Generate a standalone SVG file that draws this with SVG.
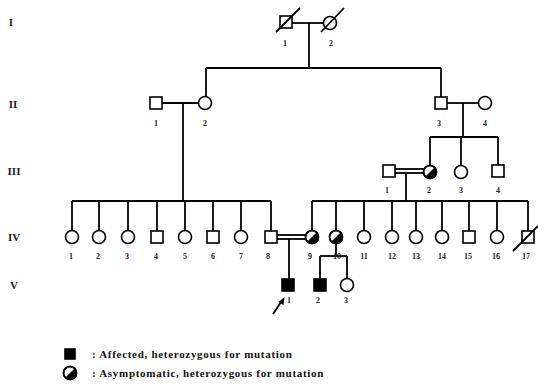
<svg xmlns="http://www.w3.org/2000/svg" width="538" height="392" viewBox="0 0 538 392">
<defs>
<style>
.ln{stroke:#000;stroke-width:1.8;fill:none}
.sq{stroke:#000;stroke-width:1.6;fill:#fff}
.ci{stroke:#000;stroke-width:1.6;fill:#fff}
.af{fill:#000;stroke:#000;stroke-width:1.6}
.hf{fill:#000;stroke:none}
.lb{font-family:"Liberation Serif",serif;font-size:8px;font-weight:bold;text-anchor:middle;fill:#222}
.gn{font-family:"Liberation Serif",serif;font-size:11px;font-weight:bold;text-anchor:middle;fill:#222}
.lg{font-family:"Liberation Serif",serif;font-size:11px;font-weight:bold;letter-spacing:0.7px;fill:#111}
</style>
<symbol id="half" viewBox="-7 -7 14 14" overflow="visible">
<circle r="6.5" class="ci"/>
<path d="M-4.6,4.6 A6.5,6.5 0 0 0 4.6,-4.6 Z" class="hf"/>
<circle r="6.5" fill="none" stroke="#000" stroke-width="1.6"/>
</symbol>
</defs>
<rect width="538" height="392" fill="#fff"/>

<g id="gen-labels">
<text class="gn" x="11" y="26">I</text>
<text class="gn" x="13" y="108">II</text>
<text class="gn" x="14" y="175">III</text>
<text class="gn" x="14" y="241">IV</text>
<text class="gn" x="14" y="289">V</text>
</g>

<g id="connectors">
<line class="ln" x1="292" y1="23" x2="324" y2="23"/>
<line class="ln" x1="309" y1="23" x2="309" y2="68"/>
<line class="ln" x1="206" y1="68" x2="441" y2="68"/>
<line class="ln" x1="206" y1="68" x2="206" y2="97"/>
<line class="ln" x1="441" y1="68" x2="441" y2="97"/>
<line class="ln" x1="162" y1="103" x2="199" y2="103"/>
<line class="ln" x1="183" y1="103" x2="183" y2="201"/>
<line class="ln" x1="447" y1="103" x2="479" y2="103"/>
<line class="ln" x1="463" y1="103" x2="463" y2="137"/>
<line class="ln" x1="430" y1="137" x2="498" y2="137"/>
<line class="ln" x1="430" y1="137" x2="430" y2="166"/>
<line class="ln" x1="461" y1="137" x2="461" y2="166"/>
<line class="ln" x1="498" y1="137" x2="498" y2="165"/>
<line class="ln" x1="395" y1="169" x2="424" y2="169" stroke-width="1.4"/>
<line class="ln" x1="395" y1="173" x2="424" y2="173" stroke-width="1.4"/>
<line class="ln" x1="406" y1="173" x2="406" y2="201"/>
<line class="ln" x1="72" y1="201" x2="271" y2="201"/>
<line class="ln" x1="72" y1="201" x2="72" y2="231"/>
<line class="ln" x1="99" y1="201" x2="99" y2="231"/>
<line class="ln" x1="128" y1="201" x2="128" y2="231"/>
<line class="ln" x1="157" y1="201" x2="157" y2="231"/>
<line class="ln" x1="185" y1="201" x2="185" y2="231"/>
<line class="ln" x1="213" y1="201" x2="213" y2="231"/>
<line class="ln" x1="241" y1="201" x2="241" y2="231"/>
<line class="ln" x1="271" y1="201" x2="271" y2="231"/>
<line class="ln" x1="312" y1="201" x2="528" y2="201"/>
<line class="ln" x1="312" y1="201" x2="312" y2="231"/>
<line class="ln" x1="336" y1="201" x2="336" y2="231"/>
<line class="ln" x1="364" y1="201" x2="364" y2="231"/>
<line class="ln" x1="392" y1="201" x2="392" y2="231"/>
<line class="ln" x1="416" y1="201" x2="416" y2="231"/>
<line class="ln" x1="442" y1="201" x2="442" y2="231"/>
<line class="ln" x1="469" y1="201" x2="469" y2="231"/>
<line class="ln" x1="497" y1="201" x2="497" y2="231"/>
<line class="ln" x1="528" y1="201" x2="528" y2="231"/>
<line class="ln" x1="277" y1="235" x2="306" y2="235" stroke-width="1.4"/>
<line class="ln" x1="277" y1="239" x2="306" y2="239" stroke-width="1.4"/>
<line class="ln" x1="289" y1="239" x2="289" y2="279"/>
<line class="ln" x1="336" y1="243" x2="336" y2="256"/>
<line class="ln" x1="320" y1="256" x2="347" y2="256"/>
<line class="ln" x1="320" y1="256" x2="320" y2="279"/>
<line class="ln" x1="347" y1="256" x2="347" y2="279"/>
<line class="ln" x1="273" y1="314" x2="281" y2="302"/>
<path d="M284.5,297 L278.5,302 L283.5,305 Z" fill="#000"/>
</g>

<g id="I-1"><rect class="sq" x="280" y="16" width="12" height="12"/><line class="ln" x1="276" y1="32" x2="300" y2="8" stroke-width="1.3"/><text class="lb" x="285" y="46">1</text></g>
<g id="I-2"><circle class="ci" cx="330" cy="23" r="6.5"/><line class="ln" x1="321" y1="32" x2="344" y2="8" stroke-width="1.3"/><text class="lb" x="331" y="46">2</text></g>

<g id="II-1"><rect class="sq" x="150" y="97" width="12" height="12"/><text class="lb" x="156" y="126">1</text></g>
<g id="II-2"><circle class="ci" cx="205" cy="103" r="6.5"/><text class="lb" x="205" y="126">2</text></g>
<g id="II-3"><rect class="sq" x="435" y="97" width="12" height="12"/><text class="lb" x="439" y="126">3</text></g>
<g id="II-4"><circle class="ci" cx="485" cy="103" r="6.5"/><text class="lb" x="485" y="126">4</text></g>

<g id="III-1"><rect class="sq" x="383" y="165" width="12" height="12"/><text class="lb" x="387" y="193">1</text></g>
<g id="III-2"><use href="#half" x="423" y="165" width="14" height="14"/><text class="lb" x="429" y="193">2</text></g>
<g id="III-3"><circle class="ci" cx="461" cy="172" r="6.5"/><text class="lb" x="461" y="193">3</text></g>
<g id="III-4"><rect class="sq" x="492" y="165" width="12" height="12"/><text class="lb" x="498" y="193">4</text></g>

<g id="IV-1"><circle class="ci" cx="72" cy="237" r="6.5"/><text class="lb" x="71" y="259">1</text></g>
<g id="IV-2"><circle class="ci" cx="99" cy="237" r="6.5"/><text class="lb" x="98" y="259">2</text></g>
<g id="IV-3"><circle class="ci" cx="128" cy="237" r="6.5"/><text class="lb" x="127" y="259">3</text></g>
<g id="IV-4"><rect class="sq" x="151" y="231" width="12" height="12"/><text class="lb" x="156" y="259">4</text></g>
<g id="IV-5"><circle class="ci" cx="185" cy="237" r="6.5"/><text class="lb" x="185" y="259">5</text></g>
<g id="IV-6"><rect class="sq" x="207" y="231" width="12" height="12"/><text class="lb" x="213" y="259">6</text></g>
<g id="IV-7"><circle class="ci" cx="241" cy="237" r="6.5"/><text class="lb" x="241" y="259">7</text></g>
<g id="IV-8"><rect class="sq" x="265" y="231" width="12" height="12"/><text class="lb" x="268" y="259">8</text></g>
<g id="IV-9"><use href="#half" x="305" y="230" width="14" height="14"/><text class="lb" x="310" y="259">9</text></g>
<g id="IV-10"><use href="#half" x="329" y="230" width="14" height="14"/><text class="lb" x="337" y="259">10</text></g>
<g id="IV-11"><circle class="ci" cx="364" cy="237" r="6.5"/><text class="lb" x="364" y="259">11</text></g>
<g id="IV-12"><circle class="ci" cx="392" cy="237" r="6.5"/><text class="lb" x="392" y="259">12</text></g>
<g id="IV-13"><circle class="ci" cx="416" cy="237" r="6.5"/><text class="lb" x="416" y="259">13</text></g>
<g id="IV-14"><circle class="ci" cx="442" cy="237" r="6.5"/><text class="lb" x="442" y="259">14</text></g>
<g id="IV-15"><rect class="sq" x="463" y="231" width="12" height="12"/><text class="lb" x="468" y="259">15</text></g>
<g id="IV-16"><circle class="ci" cx="497" cy="237" r="6.5"/><text class="lb" x="496" y="259">16</text></g>
<g id="IV-17"><rect class="sq" x="522" y="231" width="12" height="12"/><line class="ln" x1="513" y1="251" x2="538" y2="226" stroke-width="1.3"/><text class="lb" x="526" y="259">17</text></g>

<g id="V-1"><rect class="af" x="282" y="279" width="12" height="12"/><text class="lb" x="289" y="303">1</text></g>
<g id="V-2"><rect class="af" x="314" y="279" width="12" height="12"/><text class="lb" x="318" y="303">2</text></g>
<g id="V-3"><circle class="ci" cx="347" cy="285" r="6.5"/><text class="lb" x="346" y="303">3</text></g>

<g id="legend">
<rect class="af" x="65" y="349" width="10" height="10"/>
<text class="lg" x="92" y="358">: Affected, heterozygous for mutation</text>
<use href="#half" x="63" y="366" width="14" height="14"/>
<text class="lg" x="92" y="377">: Asymptomatic, heterozygous for mutation</text>
</g>
</svg>
